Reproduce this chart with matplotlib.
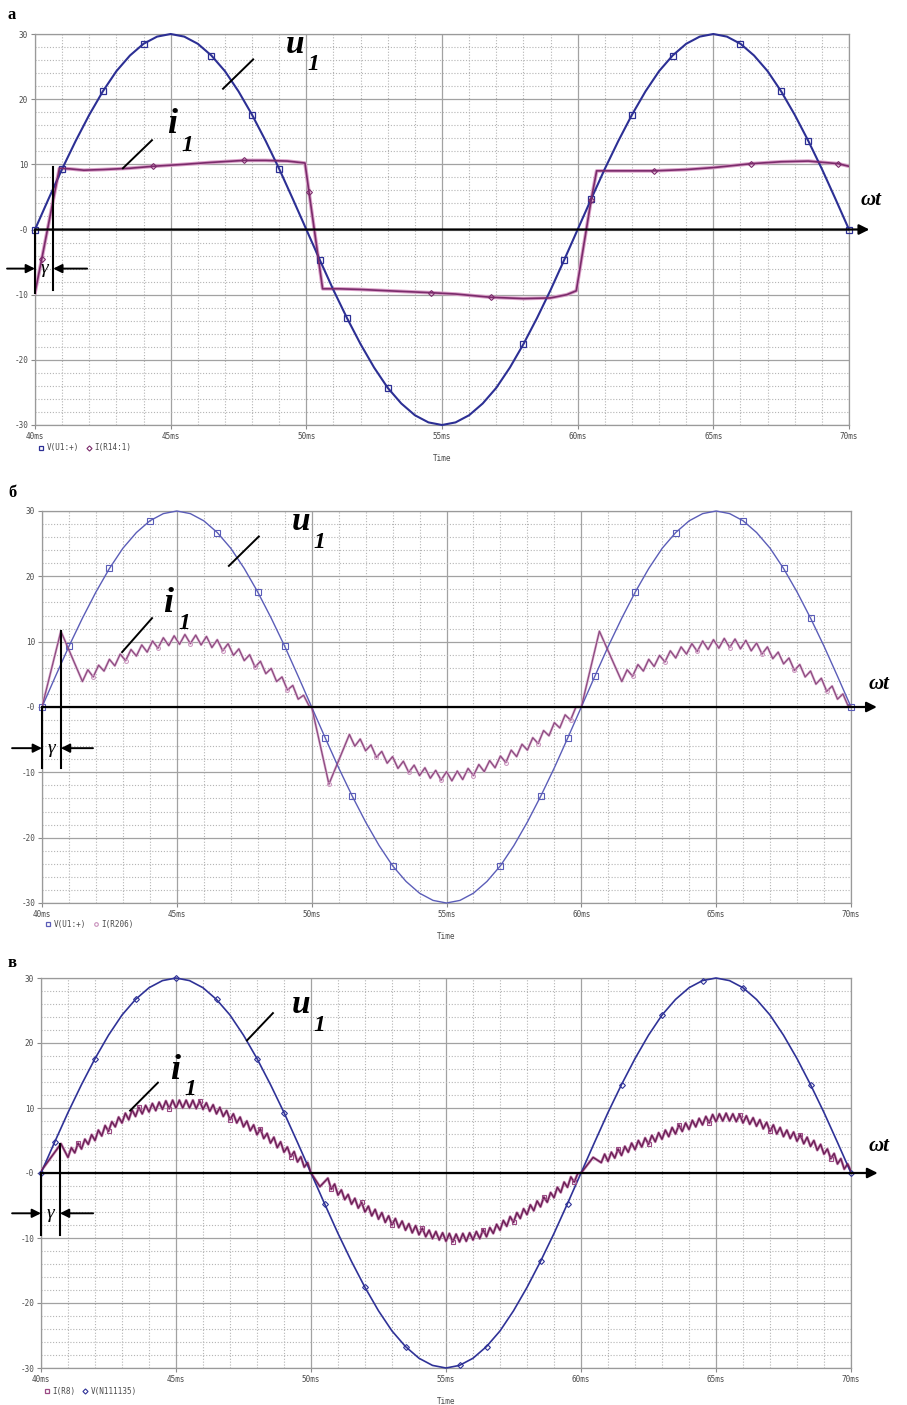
import numpy as np
import matplotlib
matplotlib.use("Agg")
import matplotlib.pyplot as plt
from matplotlib.lines import Line2D
from matplotlib.ticker import MultipleLocator

# ---------------------------------------------------------------- data
# source voltage u1 (V), sampled every 0.5 ms from 40 ms to 70 ms
u1_ms = np.linspace(40.0, 70.0, 61)
u1_volts = [0.0, 4.7, 9.3, 13.6, 17.6, 21.2, 24.3, 26.7, 28.5, 29.6, 30.0,
            29.6, 28.5, 26.7, 24.3, 21.2, 17.6, 13.6, 9.3, 4.7, 0.0,
            -4.7, -9.3, -13.6, -17.6, -21.2, -24.3, -26.7, -28.5, -29.6, -30.0,
            -29.6, -28.5, -26.7, -24.3, -21.2, -17.6, -13.6, -9.3, -4.7, 0.0,
            4.7, 9.3, 13.6, 17.6, 21.2, 24.3, 26.7, 28.5, 29.6, 30.0,
            29.6, 28.5, 26.7, 24.3, 21.2, 17.6, 13.6, 9.3, 4.7, 0.0]

# panel а : current i1
a_i1_ms = [40.0, 40.25, 40.9, 41.3, 41.8, 42.5, 43.5, 44.35, 45.5, 46.5, 47.7,
           48.5, 49.3, 49.95, 50.1, 50.6, 51.2, 52.0, 53.0, 54.6, 55.5, 56.8,
           58.0, 59.0, 59.6, 59.95, 60.5, 60.7, 61.3, 62.0, 62.8, 64.0, 65.0,
           66.4, 67.5, 68.5, 69.6, 70.0]
a_i1_amp = [-9.7, -4.5, 9.4, 9.3, 9.1, 9.2, 9.4, 9.7, 10.0, 10.3, 10.6,
            10.6, 10.5, 10.2, 5.7, -9.1, -9.1, -9.2, -9.4, -9.7, -9.9, -10.4,
            -10.6, -10.5, -10.0, -9.4, 4.6, 9.0, 9.0, 9.0, 9.0, 9.2, 9.5,
            10.1, 10.4, 10.5, 10.1, 9.7]

# panel б : current i1 = corner points + three rippled stretches
b_corner_ms = [40.0, 40.7, 50.0, 50.64, 60.0, 60.67, 70.0]
b_corner_amp = [0.0, 11.6, 0.0, -11.8, 0.0, 11.6, 0.3]
b_ripple_spans_ms = [(41.5, 49.9), (51.4, 59.8), (61.5, 69.9)]
b_ripple1_amp = [3.9, 5.7, 4.6, 6.4, 5.5, 7.3, 6.3, 8.1, 7.1, 8.8, 7.8, 9.5,
                 8.4, 10.1, 9.0, 10.6, 9.4, 10.9, 9.6, 11.1, 9.7, 11.0, 9.5,
                 10.8, 9.1, 10.3, 8.6, 9.7, 7.9, 8.9, 7.1, 8.0, 6.1, 7.0, 5.1,
                 5.9, 3.9, 4.6, 2.6, 3.3, 1.2, 1.8, 0.2]
b_ripple2_amp = [-4.2, -6.0, -4.9, -6.7, -5.8, -7.7, -6.8, -8.6, -7.6, -9.4,
                 -8.3, -10.0, -8.9, -10.5, -9.3, -10.9, -9.7, -11.2, -9.9,
                 -11.3, -9.8, -11.1, -9.4, -10.5, -8.8, -9.9, -8.2, -9.3, -7.5,
                 -8.5, -6.6, -7.6, -5.7, -6.6, -4.7, -5.6, -3.6, -4.4, -2.4,
                 -3.2, -1.2, -2.0, 0.0]
b_ripple3_amp = [3.9, 5.7, 4.7, 6.5, 5.5, 7.3, 6.2, 7.9, 6.9, 8.6, 7.5, 9.2,
                 8.1, 9.7, 8.5, 10.1, 8.8, 10.3, 9.0, 10.5, 9.1, 10.4, 8.9,
                 10.2, 8.6, 9.8, 8.1, 9.2, 7.4, 8.4, 6.6, 7.5, 5.6, 6.5, 4.6,
                 5.5, 3.5, 4.4, 2.4, 3.2, 1.2, 2.0, 0.1]

# panel в : current i1 = corner points + three rippled stretches
c_corner_ms = [40.0, 40.74, 50.33, 60.45]
c_corner_amp = [0.3, 4.5, -2.1, 2.4]
c_ripple_spans_ms = [(41.0, 50.0), (50.625, 60.0), (60.75, 70.0)]
c_ripple1_amp = [2.4, 3.9, 3.1, 4.6, 3.7, 5.2, 4.4, 5.9, 5.0, 6.6,
                 5.7, 7.3, 6.4, 7.9, 7.1, 8.6, 7.7, 9.2, 8.2, 9.7,
                 8.7, 10.1, 9.1, 10.4, 9.4, 10.7, 9.6, 10.9, 9.8, 11.1,
                 9.9, 11.2, 10.0, 11.2, 10.0, 11.2, 10.0, 11.2, 9.9, 11.1,
                 9.8, 10.8, 9.5, 10.5, 9.1, 10.1, 8.7, 9.6, 8.2, 9.1,
                 7.7, 8.6, 7.1, 8.0, 6.5, 7.4, 5.9, 6.8, 5.3, 6.1,
                 4.6, 5.5, 3.9, 4.8, 3.2, 4.0, 2.5, 3.3, 1.7, 2.5,
                 0.9, 1.6, 0.0]
c_ripple2_amp = [-0.8, -2.5, -1.7, -3.4, -2.6, -4.1, -3.3, -4.8, -3.9, -5.4,
                 -4.5, -6.0, -5.1, -6.6, -5.6, -7.1, -6.1, -7.6, -6.6, -8.0,
                 -7.0, -8.4, -7.4, -8.8, -7.8, -9.2, -8.1, -9.5, -8.5, -9.8,
                 -8.8, -10.1, -9.0, -10.3, -9.2, -10.5, -9.3, -10.6, -9.4, -10.6,
                 -9.3, -10.5, -9.2, -10.3, -9.0, -10.1, -8.7, -9.8, -8.4, -9.3,
                 -7.9, -8.8, -7.3, -8.2, -6.7, -7.6, -6.1, -7.0, -5.5, -6.4,
                 -4.9, -5.8, -4.3, -5.2, -3.7, -4.5, -3.0, -3.8, -2.2, -3.0,
                 -1.4, -2.2, -0.6, -1.4, -0.1, 0.0]
c_ripple3_amp = [1.6, 2.9, 1.8, 3.2, 2.3, 3.7, 2.7, 4.1, 3.2, 4.6,
                 3.6, 5.0, 4.0, 5.4, 4.4, 5.8, 4.8, 6.2, 5.2, 6.6,
                 5.6, 7.0, 6.0, 7.4, 6.4, 7.7, 6.7, 8.1, 7.1, 8.4,
                 7.4, 8.7, 7.7, 9.0, 7.9, 9.1, 8.0, 9.2, 8.0, 9.1,
                 7.9, 9.0, 7.7, 8.8, 7.5, 8.5, 7.2, 8.2, 6.8, 7.8,
                 6.4, 7.4, 6.0, 7.0, 5.6, 6.6, 5.3, 6.3, 4.9, 5.9,
                 4.5, 5.5, 4.1, 5.0, 3.5, 4.4, 2.9, 3.7, 2.2, 3.0,
                 1.4, 2.2, 0.6, 1.4, 0.3]

x_tick_ms = [40, 45, 50, 55, 60, 65, 70]
x_tick_labels = ["40ms", "45ms", "50ms", "55ms", "60ms", "65ms", "70ms"]
y_tick_values = [30, 20, 10, 0, -10, -20, -30]
y_tick_labels = ["30", "20", "10", "-0", "-10", "-20", "-30"]

panel_letters = ["а", "б", "в"]
legend_labels = [("V(U1:+)", "I(R14:1)"), ("V(U1:+)", "I(R206)"),
                 ("I(R8)", "V(N111135)")]


# ---------------------------------------------------------------- helpers
def assemble(corner_ms, corner_amp, spans, ripples):
    t = list(corner_ms)
    v = list(corner_amp)
    for (t0, t1), vals in zip(spans, ripples):
        t += list(np.linspace(t0, t1, len(vals)))
        v += list(vals)
    t = np.asarray(t)
    v = np.asarray(v)
    order = np.argsort(t, kind="stable")
    return t[order], v[order]


MONO = "DejaVu Sans Mono"
SERIF = "Liberation Serif"
GRID_MAJ = "#a2a2a2"
GRID_MIN = "#b4b4b4"
TXT = "#4a4a4a"

W, H = 907, 1405
fig = plt.figure(figsize=(W / 100, H / 100), dpi=100)


def px_axes(left, top, right, bottom):
    return fig.add_axes([left / W, 1 - bottom / H, (right - left) / W,
                         (bottom - top) / H])


def style_axes(ax):
    ax.set_xlim(40, 70)
    ax.set_ylim(-30, 30)
    ax.set_xticks(x_tick_ms)
    ax.set_xticklabels(x_tick_labels)
    ax.set_yticks(y_tick_values)
    ax.set_yticklabels(y_tick_labels)
    ax.xaxis.set_minor_locator(MultipleLocator(1))
    ax.yaxis.set_minor_locator(MultipleLocator(2))
    ax.tick_params(which="major", direction="out", length=3, width=0.8,
                   color="#8a8a8a", labelsize=5.5, labelcolor=TXT, pad=2)
    ax.tick_params(which="minor", length=0)
    for lab in ax.get_xticklabels() + ax.get_yticklabels():
        lab.set_fontfamily(MONO)
    ax.set_axisbelow(True)
    ax.grid(which="major", color=GRID_MAJ, lw=0.9, ls="-")
    ax.grid(which="minor", color=GRID_MIN, lw=0.8, ls=(0, (1, 1.6)))
    for s in ax.spines.values():
        s.set_color("#9a9a9a")
        s.set_linewidth(0.9)
    ax.text(0.5, -0.085, "Time", transform=ax.transAxes, ha="center",
            va="center", fontsize=5.5, family=MONO, color=TXT)


def omega_axis(ax, tip, label_y):
    ax.annotate("", xy=(tip, 0), xycoords=("axes fraction", "data"),
                xytext=(0.0, 0), textcoords=("axes fraction", "data"),
                arrowprops=dict(arrowstyle="-|>", lw=1.6, color="black",
                                mutation_scale=15, shrinkA=0, shrinkB=0),
                annotation_clip=False, zorder=6)
    ax.text(tip + 0.002, label_y, "ωt", transform=ax.get_yaxis_transform(),
            ha="center", va="center", fontsize=15, fontweight="bold",
            fontstyle="italic", family=SERIF, color="black", clip_on=False)


def gamma_marks(ax, t_gamma, left_bottom, g_top, g_bottom, arrow_y, t_out_l,
                t_out_r):
    kw = dict(color="black", lw=1.5, clip_on=False, zorder=7)
    ax.plot([40, 40], [0, left_bottom], **kw)
    ax.plot([t_gamma, t_gamma], [g_top, g_bottom], **kw)
    ap = dict(arrowstyle="-|>", color="black", lw=1.4, mutation_scale=13,
              shrinkA=0, shrinkB=0)
    ax.annotate("", xy=(40, arrow_y), xytext=(t_out_l, arrow_y),
                arrowprops=ap, annotation_clip=False, zorder=7)
    ax.annotate("", xy=(t_gamma, arrow_y), xytext=(t_out_r, arrow_y),
                arrowprops=ap, annotation_clip=False, zorder=7)
    ax.text((40 + t_gamma) / 2, arrow_y, "γ", ha="center", va="center",
            fontsize=14, fontstyle="italic", family=SERIF, zorder=8)


def name_label(ax, letter, size, base, sub, leader):
    ax.text(base[0], base[1], letter, fontsize=size, fontweight="bold",
            fontstyle="italic", family=SERIF, ha="left", va="baseline",
            zorder=8)
    ax.text(sub[0], sub[1], "1", fontsize=17, fontweight="bold",
            fontstyle="italic", family=SERIF, ha="left", va="baseline",
            zorder=8)
    ax.plot(leader[0], leader[1], color="black", lw=1.4, zorder=8)


def legend(ax, h1, h2, labels, y):
    leg = ax.legend([h1, h2], labels, loc="center left",
                    bbox_to_anchor=(0.004, y), ncol=2, frameon=False,
                    prop=dict(family=MONO, size=5.5), labelcolor=TXT,
                    handlelength=0.7, handletextpad=0.4, columnspacing=0.9,
                    borderaxespad=0, borderpad=0)
    return leg


# ---------------------------------------------------------------- panel а
ax = px_axes(35, 34, 849, 425)
style_axes(ax)
col_u, col_i = "#2c2f94", "#7b2b6b"
ax.plot(u1_ms, u1_volts, color=col_u, lw=1.5, marker="s", ms=4.2,
        mfc="none", mec=col_u, mew=0.9,
        markevery=[0, 2, 5, 8, 13, 16, 18, 21, 23, 26, 36, 39, 41, 44, 47,
                   52, 55, 57, 60], zorder=4, clip_on=False)
ax.plot(a_i1_ms, a_i1_amp, color="#d9a0c8", lw=2.6, zorder=3)
ax.plot(a_i1_ms, a_i1_amp, color=col_i, lw=1.2, marker="D", ms=3.0,
        mfc="none", mec=col_i, mew=0.8,
        markevery=[1, 7, 10, 14, 19, 21, 26, 30, 33, 36], zorder=4)
omega_axis(ax, 1.025, 4.6)
gamma_marks(ax, 40.67, -9.7, 9.6, -9.3, -6.0, 38.97, 41.92)
name_label(ax, "u", 24, (49.25, 27.1), (50.05, 24.4),
           ([48.04, 46.93], [26.1, 21.6]))
name_label(ax, "i", 26, (44.87, 14.8), (45.4, 12.0),
           ([44.31, 43.24], [13.7, 9.4]))
legend(ax, Line2D([], [], ls="none", marker="s", ms=3.5, mfc="none",
                  mec=col_u, mew=0.9),
       Line2D([], [], ls="none", marker="D", ms=2.6, mfc="none", mec=col_i,
              mew=0.8), legend_labels[0], -0.058)

# ---------------------------------------------------------------- panel б
ax = px_axes(42, 511, 851, 903)
style_axes(ax)
col_u, col_i = "#5b5db8", "#8d4a80"
ax.plot(u1_ms, u1_volts, color=col_u, lw=1.0, marker="s", ms=4.0,
        mfc="none", mec=col_u, mew=0.8,
        markevery=[0, 2, 5, 8, 13, 16, 18, 21, 23, 26, 34, 37, 39, 41, 44,
                   47, 52, 55, 57, 60], zorder=4, clip_on=False)
b_t, b_v = assemble(b_corner_ms, b_corner_amp, b_ripple_spans_ms,
                    [b_ripple1_amp, b_ripple2_amp, b_ripple3_amp])
ax.plot(b_t, b_v, color="#dcb4d2", lw=1.8, zorder=3)
ax.plot(b_t, b_v, color=col_i, lw=0.9, marker="o", ms=2.8, mfc="none",
        mec="#c890bb", mew=0.7, markevery=(4, 6), zorder=4)
omega_axis(ax, 1.032, 3.5)
gamma_marks(ax, 40.7, -9.3, 11.6, -9.4, -6.3, 38.89, 41.89)
name_label(ax, "u", 24, (49.25, 27.1), (50.05, 24.4),
           ([48.04, 46.93], [26.1, 21.6]))
name_label(ax, "i", 26, (44.49, 14.6), (45.05, 11.9),
           ([44.08, 42.97], [13.6, 8.4]))
legend(ax, Line2D([], [], ls="none", marker="s", ms=3.5, mfc="none",
                  mec=col_u, mew=0.9),
       Line2D([], [], ls="none", marker="o", ms=2.6, mfc="none",
              mec="#c890bb", mew=0.8), legend_labels[1], -0.054)

# ---------------------------------------------------------------- panel в
ax = px_axes(41, 978, 851, 1368)
style_axes(ax)
col_u, col_i = "#2f3297", "#6b1f56"
ax.plot(u1_ms, u1_volts, color=col_u, lw=1.2, marker="D", ms=3.0,
        mfc="none", mec=col_u, mew=0.8,
        markevery=[0, 1, 4, 7, 10, 13, 16, 18, 21, 24, 27, 31, 33, 37, 39,
                   43, 46, 49, 52, 57, 60], zorder=4, clip_on=False)
c_t, c_v = assemble(c_corner_ms, c_corner_amp, c_ripple_spans_ms,
                    [c_ripple1_amp, c_ripple2_amp, c_ripple3_amp])
ax.plot(c_t, c_v, color="#c98ab5", lw=2.0, zorder=3)
ax.plot(c_t, c_v, color=col_i, lw=1.0, marker="s", ms=3.4, mfc="none",
        mec="#9a4a84", mew=0.8, markevery=(5, 9), zorder=4)
omega_axis(ax, 1.033, 4.2)
gamma_marks(ax, 40.7, -9.6, 4.5, -9.6, -6.2, 38.93, 41.93)
name_label(ax, "u", 24, (49.3, 24.6), (50.1, 21.9),
           ([48.59, 47.63], [24.6, 20.4]))
name_label(ax, "i", 26, (44.78, 14.5), (45.32, 12.0),
           ([44.33, 43.3], [13.9, 9.6]))
legend(ax, Line2D([], [], ls="none", marker="s", ms=3.5, mfc="none",
                  mec="#9a4a84", mew=0.9),
       Line2D([], [], ls="none", marker="D", ms=2.6, mfc="none", mec=col_u,
              mew=0.8), legend_labels[2], -0.059)

# ---------------------------------------------------------------- letters
for letter, base_px in zip(panel_letters, [19, 497, 967]):
    fig.text(8 / W, 1 - base_px / H, letter, fontsize=12, fontweight="bold",
             family=SERIF, ha="left", va="baseline")

fig.savefig("out.png", dpi=100, facecolor="white")
